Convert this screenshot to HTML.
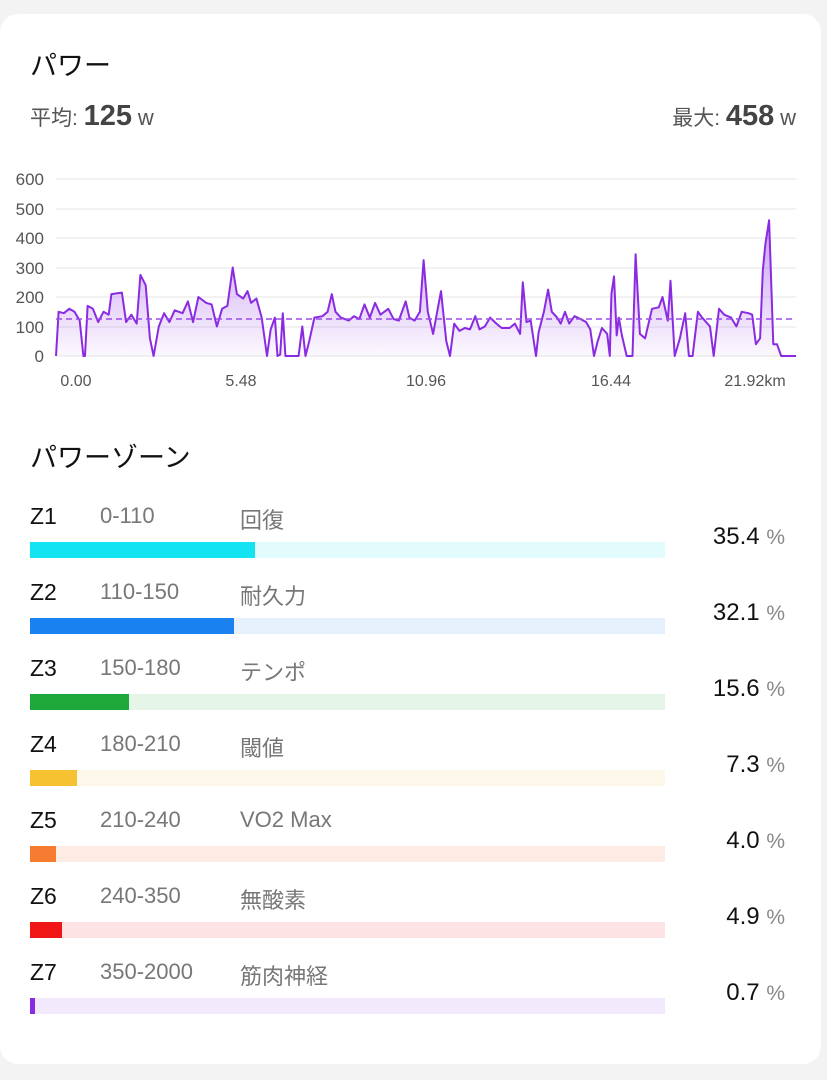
<!DOCTYPE html>
<html><head><meta charset="utf-8"><style>
body{margin:0;width:827px;height:1080px;background:#f3f3f3;font-family:"Liberation Sans","Noto Sans CJK JP",sans-serif;position:relative;overflow:hidden}
.card{position:absolute;left:0;top:14px;width:821px;height:1050px;background:#fff;border-radius:18px}
.t{position:absolute;white-space:nowrap}
.bar{position:absolute;left:30px;width:635px;height:16px}
.bar div{height:100%}
</style></head><body>
<div class="card"></div>
<div class="t" style="left:30px;top:44px;font-size:27px;color:#111">パワー</div>
<div class="t" style="left:30px;top:100px;font-size:21px;color:#555">平均: <span style="font-size:29px;font-weight:bold;color:#444">125</span> <span style="font-size:22px">w</span></div>
<div class="t" style="right:31px;top:100px;font-size:21px;color:#555">最大: <span style="font-size:29px;font-weight:bold;color:#444">458</span> <span style="font-size:22px">w</span></div>
<svg style="position:absolute;left:0;top:0" width="827" height="400">
<defs><linearGradient id="g" x1="0" y1="0" x2="0" y2="1"><stop offset="0" stop-color="#9b4de8" stop-opacity="0.55"/><stop offset="1" stop-color="#9b4de8" stop-opacity="0.04"/></linearGradient></defs>
<g stroke="#e4e4e4" stroke-width="1">
<line x1="56" x2="796" y1="179" y2="179"/><line x1="56" x2="796" y1="209" y2="209"/><line x1="56" x2="796" y1="238" y2="238"/><line x1="56" x2="796" y1="268" y2="268"/><line x1="56" x2="796" y1="297" y2="297"/><line x1="56" x2="796" y1="327" y2="327"/><line x1="56" x2="796" y1="356" y2="356"/></g>
<g font-size="17" fill="#555" text-anchor="end" font-family="Liberation Sans">
<text x="44" y="185">600</text><text x="44" y="215">500</text><text x="44" y="244">400</text><text x="44" y="274">300</text><text x="44" y="303">200</text><text x="44" y="333">100</text><text x="44" y="362">0</text></g>
<g font-size="16" fill="#555" text-anchor="middle" font-family="Liberation Sans">
<text x="76" y="386">0.00</text><text x="241" y="386">5.48</text><text x="426" y="386">10.96</text><text x="611" y="386">16.44</text><text x="755" y="386">21.92km</text></g>
<path id="area" fill="url(#g)"/>
<path id="ln" fill="none" stroke="#8a2be2" stroke-width="2" stroke-linejoin="round"/>
<line x1="56" x2="796" y1="319" y2="319" stroke="#9b4de8" stroke-width="1.5" stroke-dasharray="6,4"/>
</svg>
<script>
var d=[105,0,110,150,120,145,130,160,140,150,150,120,157,0,160,0,165,170,175,160,185,115,195,150,205,140,210,210,230,215,238,115,248,140,258,110,265,275,275,240,283,60,290,0,300,100,310,145,320,115,330,155,345,145,355,185,365,115,375,200,390,180,400,175,410,100,420,160,430,170,440,300,448,210,460,195,468,220,475,180,485,195,495,130,505,0,512,90,520,130,525,0,530,5,535,145,540,0,565,0,572,100,578,0,585,50,595,130,610,135,620,150,628,210,635,150,645,130,660,120,670,135,680,125,690,175,700,130,710,180,720,140,735,160,745,125,755,120,768,185,775,130,785,120,795,150,802,325,810,150,820,75,835,220,845,50,852,0,860,110,870,85,880,95,890,90,900,135,908,90,918,100,928,130,940,110,950,95,965,95,975,110,985,75,990,250,997,115,1005,120,1015,0,1020,80,1030,150,1038,225,1045,150,1055,130,1062,110,1070,150,1078,110,1088,135,1100,125,1110,115,1118,90,1125,0,1132,50,1140,95,1150,75,1155,0,1158,210,1163,270,1168,70,1172,130,1178,70,1187,0,1198,0,1204,345,1212,75,1222,60,1235,160,1248,165,1255,200,1265,120,1270,255,1278,0,1288,60,1298,145,1305,0,1312,0,1322,150,1330,130,1345,100,1352,0,1362,160,1372,140,1385,130,1395,100,1405,150,1418,145,1425,140,1432,40,1440,60,1445,290,1450,380,1457,460,1465,40,1472,40,1480,0,1508,0];
var p="";for(var i=0;i<d.length;i+=2){var x=56+(d[i]-105)/1.896,y=356-d[i+1]*0.295;p+=(i?"L":"M")+x.toFixed(1)+","+y.toFixed(1);}
document.getElementById("ln").setAttribute("d",p);
document.getElementById("area").setAttribute("d",p+"L796,356L56,356Z");
</script>
<div class="t" style="left:30px;top:436px;font-size:27px;color:#111">パワーゾーン</div>
<div id="zones"></div>
<script>
var z=[["Z1","0-110","回復","35.4",255,"#14e3f2","#e2fbfd"],["Z2","110-150","耐久力","32.1",234,"#1a82f0","#e6f1fd"],["Z3","150-180","テンポ","15.6",129,"#1fa83a","#e5f5e7"],["Z4","180-210","閾値","7.3",77,"#f7c231","#fdf8ea"],["Z5","210-240","VO2 Max","4.0",56,"#f57c30","#fdebe4"],["Z6","240-350","無酸素","4.9",62,"#f01616","#fde3e3"],["Z7","350-2000","筋肉神経","0.7",35,"#8a2be2","#f3e9fc"]];
var h="";z.forEach(function(r,i){var y=i*76;
h+='<div class="t" style="left:30px;top:'+(503+y)+'px;font-size:23px;color:#111">'+r[0]+'</div>';
h+='<div class="t" style="left:100px;top:503px;margin-top:'+y+'px;font-size:22px;color:#777">'+r[1]+'</div>';
h+='<div class="t" style="left:240px;top:'+(503+y)+'px;font-size:22px;color:#777">'+r[2]+'</div>';
h+='<div class="bar" style="top:'+(542+y)+'px;background:'+r[6]+'"><div style="width:'+(r[4]-30)+'px;background:'+r[5]+'"></div></div>';
h+='<div class="t" style="right:42px;top:'+(523+y)+'px;font-size:24px;color:#111">'+r[3]+' <span style="color:#888;font-size:21px">%</span></div>';});
document.getElementById("zones").innerHTML=h;
</script>
</body></html>
